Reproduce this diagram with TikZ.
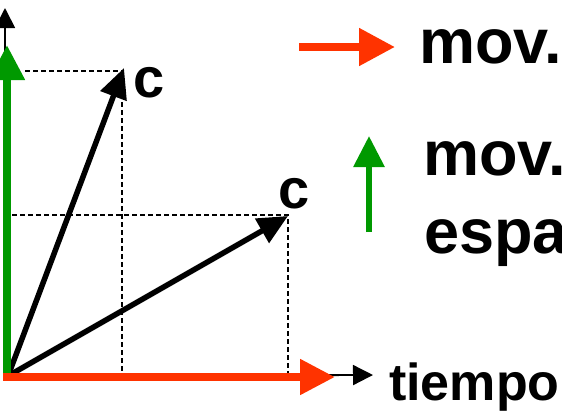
\documentclass[tikz,border=0pt]{standalone}
\usepackage{fontspec}
\setmainfont{Liberation Sans}
\usetikzlibrary{arrows.meta}
\definecolor{myred}{HTML}{FF3300}
\definecolor{mygreen}{HTML}{009900}
\tikzset{
  axisline/.style={line width=1.8pt,-{Triangle[length=20pt,width=20pt]}},
  vec/.style={line width=5.5pt,-{Triangle[length=30pt,width=27pt]}},
  dashline/.style={line width=1.5pt,dash pattern=on 5pt off 3pt},
  bigarrow/.style={line width=8pt,-{Triangle[length=35pt,width=34pt]}},
  lbl/.style={inner sep=0pt,anchor=base west,font=\bfseries\fontsize{63}{63}\selectfont},
  clbl/.style={inner sep=0pt,anchor=base west,font=\bfseries\fontsize{56}{56}\selectfont},
}
\begin{document}
\begin{tikzpicture}[x=1pt,y=-1pt]
\useasboundingbox (0,0) rectangle (562,410);
% coordinates
\coordinate (O) at (8,376);
\coordinate (Ytip) at (5,8);
\coordinate (Yb) at (5,376);
\coordinate (Xtip) at (373,375);
\coordinate (C1) at (124,68);
\coordinate (C2) at (288,216);
\coordinate (D1h) at (25,71);
\coordinate (D1c) at (122,71);
\coordinate (D1v) at (122,376);
\coordinate (D2h) at (12,215);
\coordinate (D2c) at (288,215);
\coordinate (D2v) at (288,376);
\coordinate (Gb) at (7,378);
\coordinate (Gt) at (7,45);
\coordinate (Rb) at (3,377);
\coordinate (Rt) at (335,377);
\coordinate (LRb) at (299,47);
\coordinate (LRt) at (395,47);
\coordinate (LGb) at (369,232);
\coordinate (LGt) at (369,136);
% dashed guides
\draw[dashline] (D1h) -- (D1c) -- (D1v);
\draw[dashline] (D2h) -- (D2c) -- (D2v);
% axes
\draw[axisline] (Yb) -- (Ytip);
\draw[axisline] (O) -- (Xtip);
% vectors
\draw[vec] (O) -- (C1);
\draw[vec] (O) -- (C2);
% coloured components
\draw[bigarrow,mygreen] (Gb) -- (Gt);
\draw[bigarrow,myred] (Rb) -- (Rt);
% legend
\draw[myred,line width=8pt,-{Triangle[length=36pt,width=36pt]}] (LRb) -- (LRt);
\draw[mygreen,line width=6pt,-{Triangle[length=31pt,width=30pt]}] (LGb) -- (LGt);
% labels
\node[clbl] (c1) at (133,97) {c};
\node[clbl] (c2) at (278,208) {c};
\node[lbl] (m1) at (419,63) {mov.};
\node[lbl] (m2) at (423,175) {mov.};
\node[lbl] (esp) at (424,253) {espa};
\node[inner sep=0pt,anchor=base west,font=\bfseries\fontsize{52}{52}\selectfont] (tiempo) at (389,400) {tiempo};
\end{tikzpicture}
\end{document}
